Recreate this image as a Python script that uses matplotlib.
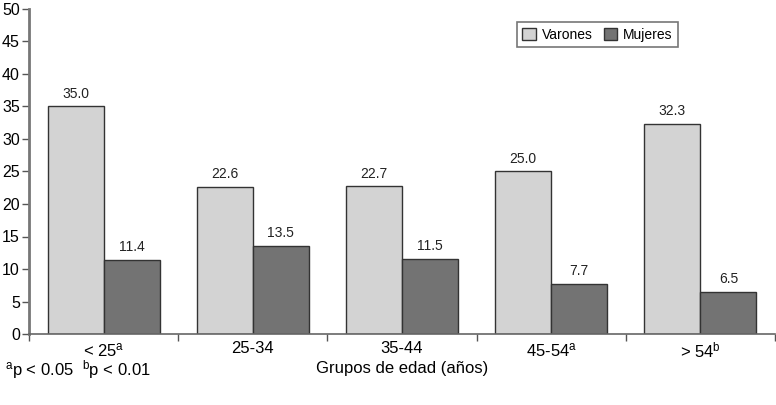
import matplotlib
matplotlib.use("Agg")
import matplotlib.pyplot as plt
import numpy as np

plt.rcParams["font.family"] = ["Liberation Sans", "DejaVu Sans"]
plt.rcParams["mathtext.default"] = "regular"

groups = [r"< 25$^{a}$", "25-34", "35-44", r"45-54$^{a}$", r"> 54$^{b}$"]
varones = [35.0, 22.6, 22.7, 25.0, 32.3]
mujeres = [11.4, 13.5, 11.5, 7.7, 6.5]

fig = plt.figure(figsize=(7.76, 4.05), dpi=100)
ax = fig.add_axes([29 / 776, 71 / 405, 746 / 776, 325 / 405])

x = np.arange(len(groups))
w = 0.375
edge = "#333333"
b1 = ax.bar(x - w / 2, varones, w, color="#d3d3d3", edgecolor=edge, linewidth=1, label="Varones")
b2 = ax.bar(x + w / 2, mujeres, w, color="#737373", edgecolor=edge, linewidth=1, label="Mujeres")

for bars, vals in ((b1, varones), (b2, mujeres)):
    for rect, v in zip(bars, vals):
        ax.text(rect.get_x() + rect.get_width() / 2, v + 0.9, f"{v:.1f}",
                ha="center", va="bottom", fontsize=10, color="#222222")

ax.set_xlim(-0.5, len(groups) - 0.5)
ax.set_ylim(0, 50)
ax.set_yticks(range(0, 51, 5))
ax.set_xticks(x)
ax.set_xticklabels(groups, fontsize=12)
ax.set_xticks(np.arange(-0.5, len(groups)), minor=True)
ax.tick_params(axis="x", which="major", length=0, pad=5)
ax.tick_params(axis="x", which="minor", length=5, width=1, color="#555555", direction="out")
ax.tick_params(axis="y", length=5, width=1, color="#555555", labelsize=11.5, pad=1.5)

for side in ("top", "right"):
    ax.spines[side].set_visible(False)
ax.spines["left"].set_color("#777777")
ax.spines["left"].set_linewidth(2)
ax.spines["bottom"].set_color("#666666")
ax.spines["bottom"].set_linewidth(1.2)

ax.set_xlabel("Grupos de edad (años)", fontsize=12, labelpad=0)

leg = ax.legend(loc="upper right", bbox_to_anchor=(0.87, 0.96), ncol=2, fontsize=10,
                frameon=True, fancybox=False, edgecolor="#555555",
                handlelength=1.0, handleheight=1.0, handletextpad=0.4,
                columnspacing=0.8, borderpad=0.4, borderaxespad=0)
leg.get_frame().set_linewidth(1.2)

fig.text(5 / 776, 1 - 370 / 405, r"$^{a}$p < 0.05  $^{b}$p < 0.01", fontsize=12,
         va="center", ha="left")

fig.savefig("out.png", dpi=100)
